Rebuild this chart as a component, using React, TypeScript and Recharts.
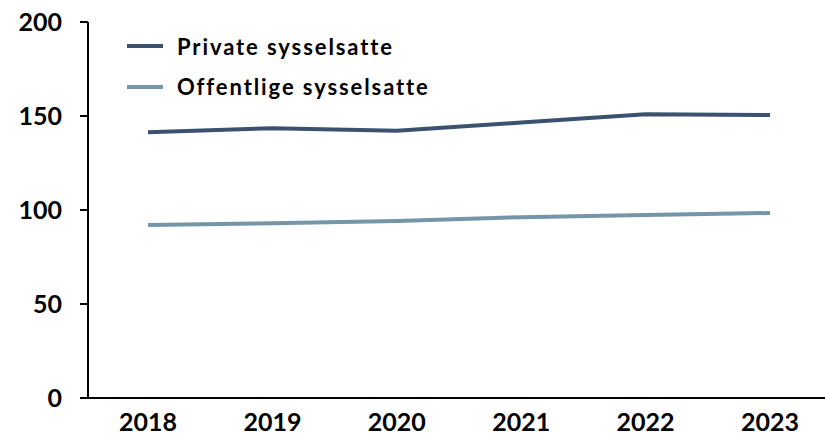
import { LineChart, Line, XAxis, YAxis } from 'recharts'

const years = ['2018', '2019', '2020', '2021', '2022', '2023']
const privateEmployed = [141.3, 143.5, 142.2, 146.5, 150.9, 150.5]
const publicEmployed = [92.0, 93.0, 94.1, 96.2, 97.3, 98.4]
const yTicks = [0, 50, 100, 150, 200]

const PRIVATE_COLOR = '#3b5170'
const PUBLIC_COLOR = '#7496a8'
const FONT = 'Lato, "Open Sans", sans-serif'

const data = years.map((year, i) => ({
    year,
    privat: privateEmployed[i],
    offentlig: publicEmployed[i],
}))

const legendItems = [
    { label: 'Private sysselsatte', color: PRIVATE_COLOR },
    { label: 'Offentlige sysselsatte', color: PUBLIC_COLOR },
]

// legend drawn on top of the plot, so it takes no room from it
function LegendBox() {
    return (
        <div style={{
            position: 'absolute', left: 127, top: 26,
            fontFamily: FONT, fontWeight: 700, fontSize: 22, letterSpacing: 1.9, color: '#000',
        }}>
            {legendItems.map(item => (
                <div key={item.label} style={{ display: 'flex', alignItems: 'center', height: 40.5 }}>
                    <span style={{ display: 'inline-block', width: 36, height: 4, background: item.color, marginRight: 14 }} />
                    {item.label}
                </div>
            ))}
        </div>
    )
}

export default function App() {
    const tickStyle = { fill: '#000', fontSize: 25, fontWeight: 700, fontFamily: FONT }
    return (
        <div style={{ position: 'absolute', left: 0, top: 0, width: 825, height: 435, background: '#fff' }}>
            <LineChart width={825} height={435} data={data} margin={{ top: 22, right: 0, bottom: 0, left: 0 }}>
                <XAxis
                    dataKey="year"
                    axisLine={{ stroke: '#000', strokeWidth: 2 }}
                    tickLine={false}
                    tickSize={0}
                    tickMargin={15}
                    height={37}
                    padding={{ left: 60, right: 55 }}
                    tick={tickStyle}
                />
                <YAxis
                    domain={[0, 200]}
                    ticks={yTicks}
                    width={88}
                    axisLine={{ stroke: '#000', strokeWidth: 2 }}
                    tickLine={{ stroke: '#000', strokeWidth: 2 }}
                    tickSize={8}
                    tickMargin={18}
                    tick={tickStyle}
                />
                <Line
                    dataKey="privat"
                    stroke={PRIVATE_COLOR}
                    strokeWidth={4}
                    dot={false}
                    isAnimationActive={false}
                />
                <Line
                    dataKey="offentlig"
                    stroke={PUBLIC_COLOR}
                    strokeWidth={4}
                    dot={false}
                    isAnimationActive={false}
                />
            </LineChart>
            <LegendBox />
        </div>
    )
}
